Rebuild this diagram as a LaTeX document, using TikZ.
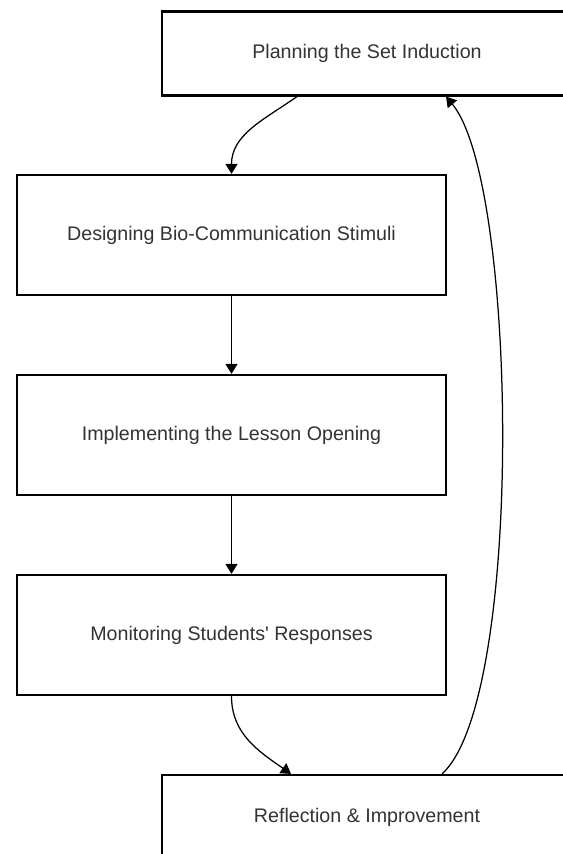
\documentclass[tikz,border=0pt]{standalone}
\usepackage{fontspec}
\usetikzlibrary{arrows.meta}
\newfontfamily\stagefont{Liberation Sans}[Ligatures=TeXOff]

\tikzset{
	stage/.style={draw, line width=1.6pt, fill=white, inner sep=0pt, text=black!80, font=\stagefont\fontsize{14.2}{17}\selectfont},
	widestage/.style={stage, minimum width=4.29in, minimum height=1.2in},
	endstage/.style={stage, minimum width=4.1in, minimum height=0.84in},
	link/.style={line width=0.9pt, -{Triangle[width=0.12in, length=0.1in]}}
}

\begin{document}
\begin{tikzpicture}
	\useasboundingbox (0in,0in) rectangle (5.63in,-8.54in);
	\clip (0in,0in) rectangle (5.63in,-8.54in);

	\node (plan) at (3.67in,-0.535in) [endstage] {Planning the Set Induction};
	\node (design) at (2.315in,-2.35in) [widestage] {Designing Bio-Communication Stimuli};
	\node (implement) at (2.315in,-4.35in) [widestage] {Implementing the Lesson Opening};
	\node (monitor) at (2.315in,-6.35in) [widestage] {Monitoring Students' Responses};
	\node (reflect) at (3.67in,-8.17in) [endstage] {Reflection \& Improvement};

	\draw[link, out=-145, in=90] ([xshift=-0.7in]plan.south) to (design.north);
	\draw[link] (design) -- (implement);
	\draw[link] (implement) -- (monitor);
	\draw[link, out=-90, in=145] (monitor.south) to ([xshift=-0.76in]reflect.north);

	% back from the last stage to the first one
	\draw[link, looseness=0.42, out=42, in=-50] ([xshift=0.75in]reflect.north) to ([xshift=0.79in]plan.south);
\end{tikzpicture}
\end{document}
